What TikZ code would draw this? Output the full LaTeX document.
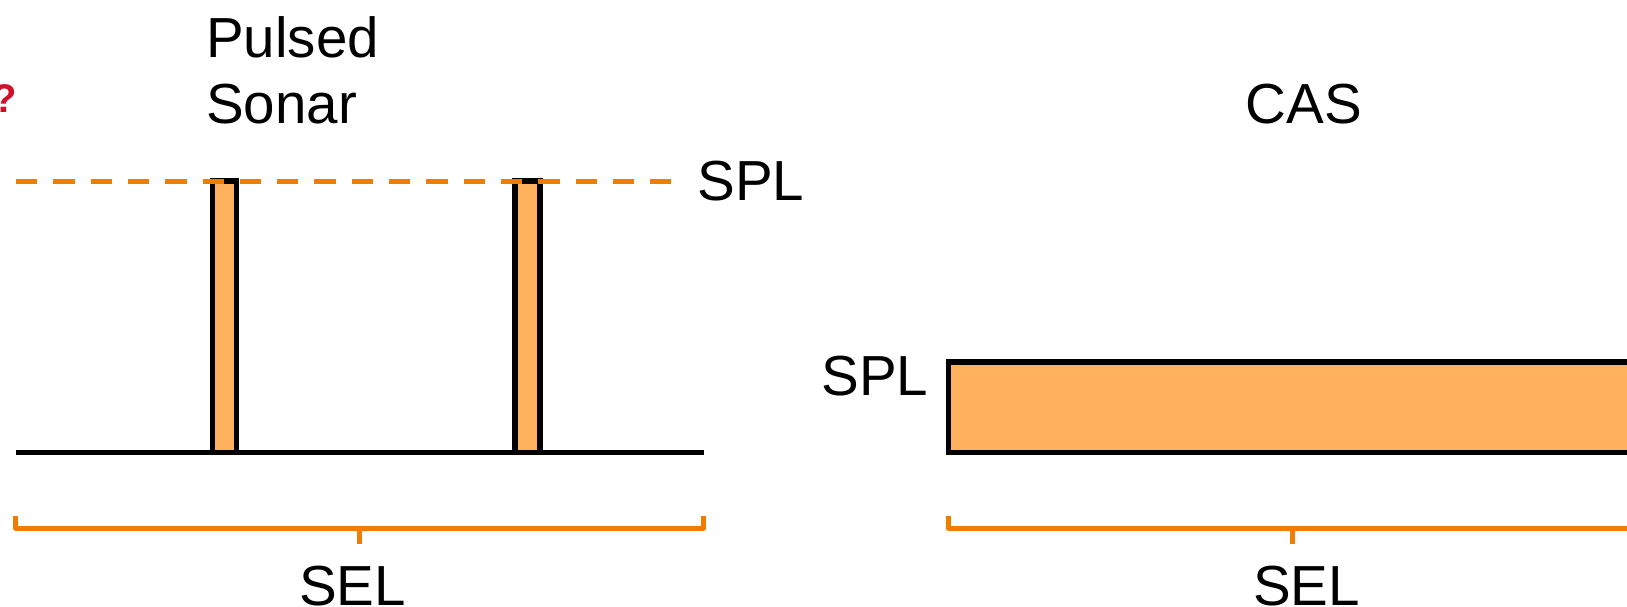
\documentclass[tikz,border=0pt]{standalone}
\usepackage{fontspec}
\setmainfont{Liberation Sans}
\definecolor{lineorange}{RGB}{238,125,0}
\definecolor{fillorange}{RGB}{255,178,91}
\definecolor{qred}{RGB}{210,16,42}
\tikzset{
  lbl/.style={anchor=base west, inner sep=0pt, font=\fontsize{56.5}{66}\selectfont},
  blackline/.style={draw=black, line width=5.5pt},
  pulsebox/.style={draw=black, fill=fillorange, line width=5.5pt},
  levelline/.style={draw=lineorange, line width=5pt, dash pattern=on 21.3pt off 16pt},
  bracketline/.style={draw=lineorange, line width=5pt, line join=round}
}
\begin{document}
\begin{tikzpicture}[x=1pt,y=-1pt]
\useasboundingbox (0,0) rectangle (1627,607);
\clip (0,0) rectangle (1627,607);

% ---- left panel: pulsed sonar ----
\node[lbl, font=\bfseries\fontsize{40}{44}\selectfont, text=qred] (q) at (-8,112.7) {?};
\node[lbl] (pulsed) at (206,57.5) {Pulsed};
\node[lbl] (sonar) at (206,124) {Sonar};

\coordinate (p1a) at (212.5,181);
\coordinate (p1b) at (236.5,452.5);
\coordinate (p2a) at (515,181);
\coordinate (p2b) at (540,452.5);
\path[pulsebox] (p1a) rectangle (p1b);
\path[pulsebox] (p2a) rectangle (p2b);

\coordinate (splL) at (16,181);
\coordinate (splR) at (672,181);
\path[levelline] (splL) -- (splR);
\node[lbl] (spl1) at (697.3,200) {SPL};

\coordinate (baseL) at (15.6,452.5);
\coordinate (baseR) at (703.5,452.5);
\path[blackline] (baseL) -- (baseR);

\coordinate (b1L) at (15.6,515.5);
\coordinate (b1R) at (703.5,515.5);
\coordinate (b1M) at (359.5,528);
\path[bracketline] (b1L) -- (15.6,528) -- (703.5,528) -- (b1R);
\path[bracketline] (b1M) -- (359.5,544);
\node[lbl] (sel1) at (299,605) {SEL};

% ---- right panel: continuous active sonar ----
\node[lbl] (cas) at (1245.5,123.5) {CAS};

\coordinate (casA) at (948.5,362);
\coordinate (casB) at (1637,452.5);
\path[pulsebox] (casA) rectangle (casB);
\node[lbl] (spl2) at (821.3,395) {SPL};

\coordinate (b2L) at (948.5,515.5);
\coordinate (b2R) at (1637,515.5);
\coordinate (b2M) at (1292.8,528);
\path[bracketline] (b2L) -- (948.5,528) -- (1637,528) -- (b2R);
\path[bracketline] (b2M) -- (1292.8,544);
\node[lbl] (sel2) at (1252.8,605) {SEL};
\end{tikzpicture}
\end{document}
